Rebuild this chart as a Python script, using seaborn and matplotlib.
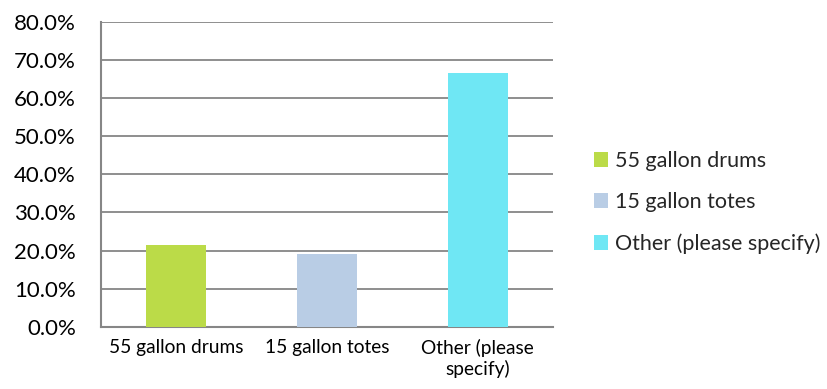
import matplotlib
matplotlib.use("Agg")
import matplotlib.pyplot as plt
import seaborn as sns
import pandas as pd
from matplotlib.ticker import PercentFormatter, MultipleLocator
from matplotlib.patches import Patch

categories = ["55 gallon drums", "15 gallon totes", "Other (please specify)"]
tick_labels = ["55 gallon drums", "15 gallon totes", "Other (please\nspecify)"]
values = [21.4, 19.0, 66.7]
colors = ["#BBDB48", "#B9CDE5", "#6FE7F4"]

sns.set_theme(style="white")
plt.rcParams["font.family"] = ["Lato", "DejaVu Sans"]

df = pd.DataFrame({"category": categories, "value": values})

fig = plt.figure(figsize=(8.27, 3.89), dpi=100)
ax = fig.add_axes([0.1221, 0.160, 0.5466, 0.7834])

sns.barplot(data=df, x="category", y="value", hue="category",
            palette=colors, width=0.4, dodge=False, saturation=1,
            legend=False, ax=ax, zorder=3, linewidth=0, edgecolor="none")

ax.set_ylim(0, 80)
ax.set_xlim(-0.5, 2.5)
ax.yaxis.set_major_locator(MultipleLocator(10))
ax.yaxis.set_major_formatter(PercentFormatter(decimals=1))
ax.grid(axis="y", color="#868686", linewidth=1.3, zorder=0)
ax.set_axisbelow(True)
for s in ["top", "right"]:
    ax.spines[s].set_visible(False)
for s in ["left", "bottom"]:
    ax.spines[s].set_color("#868686")
    ax.spines[s].set_linewidth(1.5)
ax.set_xticks(range(len(tick_labels)))
ax.set_xticklabels(tick_labels, fontsize=13.8, color="#000000", linespacing=1.2)
ax.tick_params(axis="x", length=0, pad=9)
ax.tick_params(axis="y", length=0, pad=18, labelsize=16, labelcolor="#000000")
ax.set_xlabel("")
ax.set_ylabel("")

handles = [Patch(facecolor=c, edgecolor="none") for c in colors]
fig.legend(handles, categories, loc="center left",
           bbox_to_anchor=(0.718, 0.479), frameon=False, fontsize=15.5,
           handlelength=0.68, handleheight=0.68, handletextpad=0.3,
           labelspacing=0.98, borderpad=0, borderaxespad=0)

fig.savefig("out.png", dpi=100)
